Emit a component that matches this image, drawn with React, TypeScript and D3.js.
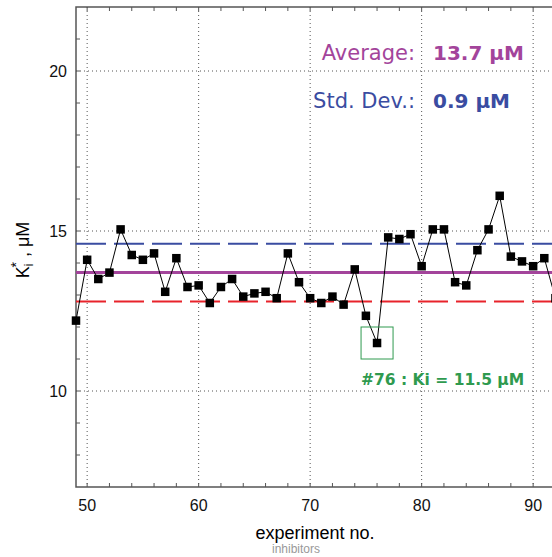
import React from "react";
import * as d3 from "d3";

// Ki* measured for each experiment
const experiments = [
  49, 50, 51, 52, 53, 54, 55, 56, 57, 58, 59, 60, 61, 62, 63, 64, 65, 66, 67, 68, 69, 70,
  71, 72, 73, 74, 75, 76, 77, 78, 79, 80, 81, 82, 83, 84, 85, 86, 87, 88, 89, 90, 91, 92,
];
const kiValues = [
  12.2, 14.1, 13.5, 13.7, 15.05, 14.25, 14.1, 14.3, 13.1, 14.15, 13.25, 13.3, 12.75, 13.25,
  13.5, 12.95, 13.05, 13.1, 12.9, 14.3, 13.4, 12.9, 12.75, 12.95, 12.7, 13.8, 12.35, 11.5,
  14.8, 14.75, 14.9, 13.9, 15.05, 15.05, 13.4, 13.3, 14.4, 15.05, 16.1, 14.2, 14.05, 13.9,
  14.15, 12.9,
];
const average = 13.7;
const stdDev = 0.9;
const highlighted = 76;

const xMajorTicks = [50, 60, 70, 80, 90];
const yMajorTicks = [10, 15, 20];

const W = 552;
const H = 557;
const left = 76;
const top = 7;
const bottom = 487;
const pxPerExp = 11.15;
const xDomain: [number, number] = [49, 94];

const MAGENTA = "#a3449b";
const BLUE = "#3a4ca1";
const RED = "#e8232b";
const GREEN = "#2f9a4f";
const AXIS = "#555";

export default function App() {
  const x = d3
    .scaleLinear()
    .domain(xDomain)
    .range([left, left + (xDomain[1] - xDomain[0]) * pxPerExp]);
  const y = d3.scaleLinear().domain([7, 22]).range([bottom, top]);
  const right = x.range()[1];

  const points = experiments.map((n, i) => ({ n, v: kiValues[i] }));
  const line = d3
    .line<{ n: number; v: number }>()
    .x((d) => x(d.n))
    .y((d) => y(d.v));

  const xMinor = d3.range(50, 94, 2);
  const yMinor = d3.range(8, 22, 1);
  const hl = points.find((p) => p.n === highlighted)!;
  const sq = 8.5;
  const sans = "'Liberation Sans', Arial, sans-serif";
  const dv = "'DejaVu Sans', Verdana, sans-serif";

  return (
    <svg
      width={W}
      height={H}
      style={{ position: "absolute", left: 0, top: 0, display: "block", overflow: "hidden" }}
    >
      <defs>
        <clipPath id="plot">
          <rect x={left} y={top} width={right - left} height={bottom - top} />
        </clipPath>
      </defs>
      <rect width={W} height={H} fill="#fff" />

      {/* dotted grid */}
      <g stroke="#555" strokeWidth={1} strokeDasharray="1,3">
        {xMajorTicks.map((t) => (
          <line key={"gx" + t} x1={x(t)} x2={x(t)} y1={top} y2={bottom} />
        ))}
        {yMajorTicks.map((t) => (
          <line key={"gy" + t} x1={left} x2={right} y1={y(t)} y2={y(t)} />
        ))}
      </g>

      {/* ticks, inward on all sides */}
      <g stroke={AXIS} strokeWidth={1}>
        {xMinor.map((t) => (
          <g key={"tx" + t}>
            <line x1={x(t)} x2={x(t)} y1={bottom} y2={bottom - 4} />
            <line x1={x(t)} x2={x(t)} y1={top} y2={top + 4} />
          </g>
        ))}
        {yMinor.map((t) => (
          <line key={"ty" + t} x1={left} x2={left + 4} y1={y(t)} y2={y(t)} />
        ))}
      </g>

      {/* frame */}
      <path
        d={`M${right},${top}H${left}V${bottom}H${right}`}
        fill="none"
        stroke={AXIS}
        strokeWidth={1.5}
      />

      {/* statistics lines */}
      <g clipPath="url(#plot)">
        <line
          x1={left}
          x2={right}
          y1={y(average + stdDev)}
          y2={y(average + stdDev)}
          stroke={BLUE}
          strokeWidth={2}
          strokeDasharray="30,8"
        />
        <line
          x1={left}
          x2={right}
          y1={y(average - stdDev)}
          y2={y(average - stdDev)}
          stroke={RED}
          strokeWidth={2}
          strokeDasharray="30,8"
        />
        <line
          x1={left}
          x2={right}
          y1={y(average)}
          y2={y(average)}
          stroke={MAGENTA}
          strokeWidth={3}
        />
      </g>

      {/* series */}
      <path d={line(points) ?? ""} fill="none" stroke="#000" strokeWidth={1} />
      {points.map((p) => (
        <rect
          key={p.n}
          x={x(p.n) - sq / 2}
          y={y(p.v) - sq / 2}
          width={sq}
          height={sq}
          fill="#000"
        />
      ))}

      {/* highlighted experiment */}
      <rect
        x={x(hl.n) - 16}
        y={y(hl.v) - 16}
        width={32}
        height={32}
        fill="none"
        stroke={GREEN}
        strokeWidth={1}
      />
      <text
        x={x(hl.n) - 16}
        y={y(10.2)}
        fill={GREEN}
        fontFamily={dv}
        fontWeight="bold"
        fontSize={15.5}
      >
        {`#${hl.n} : Ki = ${hl.v} μM`}
      </text>

      {/* summary */}
      <g fontFamily={dv}>
        <text x={415} y={y(20.35)} textAnchor="end" fill={MAGENTA} fontSize={21}>
          Average:
        </text>
        <text x={433} y={y(20.35)} fill={MAGENTA} fontWeight="bold" fontSize={20}>
          {`${average} μM`}
        </text>
        <text x={415} y={y(18.85)} textAnchor="end" fill={BLUE} fontSize={21}>
          Std. Dev.:
        </text>
        <text x={433} y={y(18.85)} fill={BLUE} fontWeight="bold" fontSize={20}>
          {`${stdDev} μM`}
        </text>
      </g>

      {/* tick labels */}
      <g fontFamily={sans} fontSize={16} fill="#111">
        {xMajorTicks.map((t) => (
          <text key={"lx" + t} x={x(t)} y={511} textAnchor="middle">
            {t}
          </text>
        ))}
        {yMajorTicks.map((t) => (
          <text key={"ly" + t} x={67} y={y(t) + 6} textAnchor="end">
            {t}
          </text>
        ))}
      </g>

      {/* axis titles */}
      <text x={315} y={539} textAnchor="middle" fontFamily={sans} fontSize={18} fill="#000">
        experiment no.
      </text>
      <text x={296} y={553} textAnchor="middle" fontFamily={sans} fontSize={12} fill="#999">
        inhibitors
      </text>
      <text
        transform="translate(29,250) rotate(-90)"
        textAnchor="middle"
        fontFamily={sans}
        fontSize={18}
        fill="#000"
      >
        K
        <tspan fontSize={12} dy={4}>
          i
        </tspan>
        <tspan fontSize={14} dx={-4} dy={-12}>
          *
        </tspan>
        <tspan dy={8}> , μM</tspan>
      </text>
    </svg>
  );
}
